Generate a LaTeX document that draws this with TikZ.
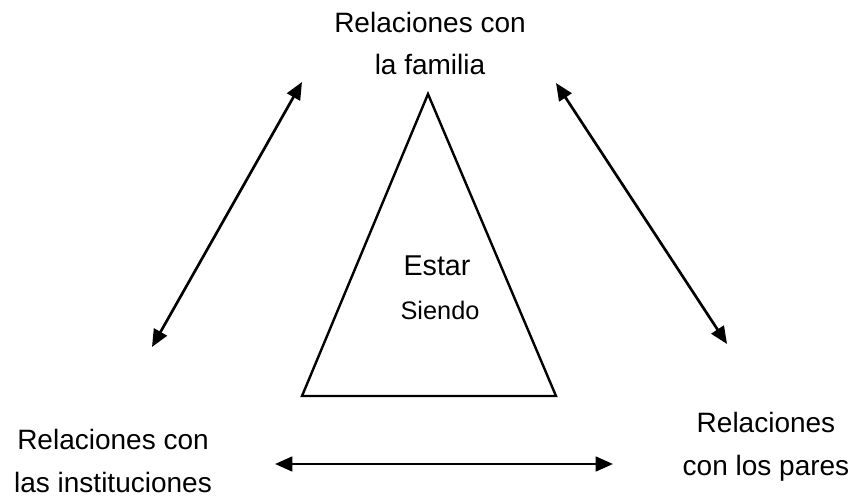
\documentclass[tikz,border=0pt]{standalone}
\usepackage{fontspec}
\setmainfont{Liberation Sans}
\usetikzlibrary{arrows.meta}

\tikzset{
  rel/.style={align=center, anchor=base, inner sep=0pt,
    font=\fontsize{21}{32}\selectfont},
  link/.style={line width=2pt, {Triangle[length=13pt,width=11pt]}-{Triangle[length=13pt,width=11pt]}}
}

\begin{document}
\begin{tikzpicture}[x=0.75pt,y=-0.75pt]
    \useasboundingbox (0,0) rectangle (857,499);

    % Labels (anchored on the last line)
    \node[rel] (familia) at (430,75) {Relaciones con\\la familia};
    \node[rel] (instituciones) at (113,492) {Relaciones con\\las instituciones};
    \node[rel] (pares) at (766,475) {Relaciones\\con los pares};

    % Draw the triangle
    \coordinate (apex) at (428,94);
    \coordinate (bl) at (302,396);
    \coordinate (br) at (556,396);
    \draw[line width=1.8pt, line join=miter] (apex) -- (br) -- (bl) -- cycle;
    \node[anchor=base, inner sep=0pt, font=\fontsize{21.5}{24}\selectfont] (estar) at (437,276) {Estar};
    \node[anchor=base, inner sep=0pt, font=\fontsize{19}{22}\selectfont] (siendo) at (440,319) {Siendo};

    % Arrows between the relations
    \coordinate (l1) at (152,347);
    \coordinate (l2) at (302,82);
    \coordinate (r1) at (556,83);
    \coordinate (r2) at (727,344);
    \coordinate (b1) at (275,464);
    \coordinate (b2) at (613,464);
    \draw[link] (l1) -- (l2);
    \draw[link] (r1) -- (r2);
    \draw[link] (b1) -- (b2);

\end{tikzpicture}
\end{document}
